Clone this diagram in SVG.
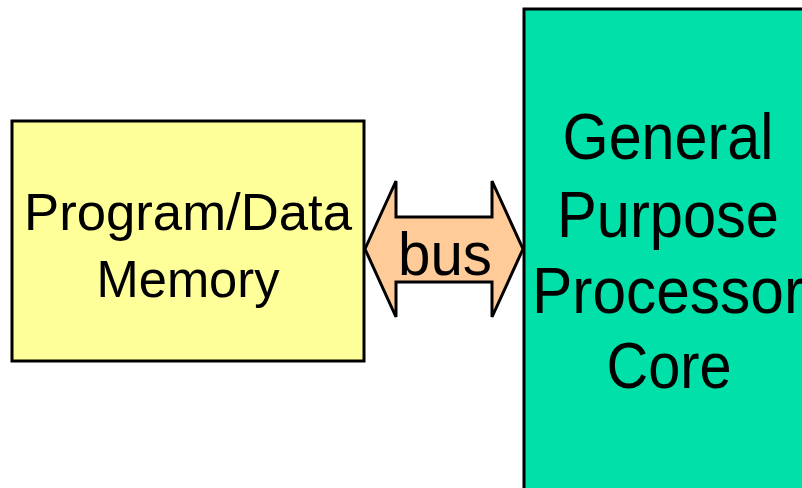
<svg xmlns="http://www.w3.org/2000/svg" width="802" height="488" viewBox="0 0 802 488">
<style>
.box{stroke:#000;stroke-width:3}
.t{font-family:"Liberation Sans",Arial,sans-serif;fill:#000;text-anchor:middle}
</style>
<rect width="802" height="488" fill="#fff"/>
<g id="memory">
<rect class="box" x="12" y="121" width="352" height="240" fill="#FFFF99"/>
<text class="t" font-size="52" x="188" y="230" textLength="328" lengthAdjust="spacingAndGlyphs">Program/Data</text>
<text class="t" font-size="52" x="188" y="297" textLength="183" lengthAdjust="spacingAndGlyphs">Memory</text>
</g>
<g id="processor">
<rect class="box" x="524" y="9" width="300" height="500" fill="#00E0A8"/>
<text class="t" font-size="64" x="668" y="159" textLength="211" lengthAdjust="spacingAndGlyphs">General</text>
<text class="t" font-size="64" x="668" y="237" textLength="222" lengthAdjust="spacingAndGlyphs">Purpose</text>
<text class="t" font-size="64" x="668" y="313" textLength="272" lengthAdjust="spacingAndGlyphs">Processor</text>
<text class="t" font-size="64" x="669" y="388" textLength="125" lengthAdjust="spacingAndGlyphs">Core</text>
</g>
<g id="connectors">
<path d="M365,249 L396,181 L396,217 L492,217 L492,181 L523,249 L492,317 L492,282 L396,282 L396,317 Z" fill="#FFCC99" stroke="#000" stroke-width="3" stroke-linejoin="miter"/>
<text class="t" font-size="61" x="445" y="275" textLength="94" lengthAdjust="spacingAndGlyphs">bus</text>
</g>
</svg>
